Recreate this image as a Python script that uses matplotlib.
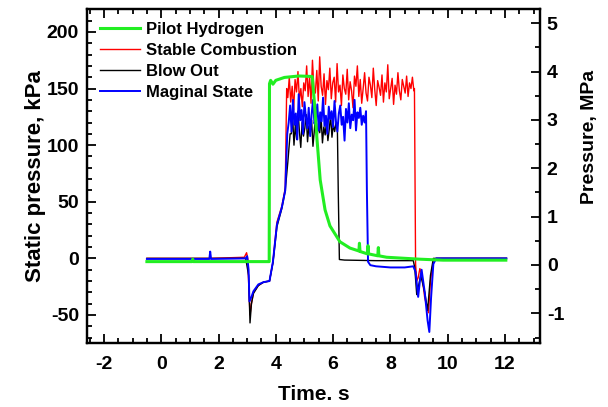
import numpy as np
import matplotlib
matplotlib.use("Agg")
import matplotlib.pyplot as plt
from matplotlib.ticker import MultipleLocator

plt.rcParams['font.family'] = ['Liberation Sans', 'DejaVu Sans']
plt.rcParams['font.weight'] = 'bold'
plt.rcParams['axes.unicode_minus'] = False

# ---- pilot hydrogen pressure, MPa (right axis)
green_t = [-0.5, 1.08, 1.10, 1.12, 3.77, 3.78, 3.82, 3.9, 4.0, 4.3, 4.8, 5.27, 5.34, 5.44, 5.55,
           5.72, 5.89, 6.24, 6.59, 6.90, 6.92, 6.94, 7.20, 7.22, 7.24, 7.56, 7.58, 7.60,
           7.87, 9.03, 9.84, 12.03]
green_v = [0.07, 0.07, 0.12, 0.07, 0.07, 3.75, 3.82, 3.74, 3.82, 3.88, 3.91, 3.90, 3.42, 2.59, 1.76,
           1.14, 0.81, 0.48, 0.35, 0.29, 0.45, 0.28, 0.23, 0.40, 0.23, 0.19, 0.36, 0.19,
           0.16, 0.12, 0.10, 0.10]

# ---- static pressure, kPa (left axis)
red_pre_t = [-0.5, 1.7, 2.9, 2.98, 3.02, 3.05, 3.1, 3.15, 3.22, 3.39, 3.57, 3.78, 3.9, 4.04,
             4.21, 4.33, 4.38]
red_pre_v = [0, 0, 1, 5, 0, -20, -50, -40, -30, -24, -21, -20, -3, 32, 46, 62, 150]
red_plateau = [142, 160, 138, 152, 131, 158, 147, 165, 140, 150, 134, 155, 148, 170, 143, 161,
               137, 175, 150, 146, 166, 139, 178, 152, 144, 163, 136, 157, 149, 168, 141, 155,
               160, 138, 172, 147, 153, 135, 162, 150, 145, 167, 140, 156, 148, 133, 161, 152,
               170, 143, 158, 137, 150, 164, 146, 139, 160, 153, 142, 168, 149, 135, 157, 151,
               144, 162, 138, 155, 147, 171, 141, 150, 159, 136, 153, 145, 164, 148, 140, 158,
               152, 146, 161, 143, 155, 150, 160, 148]
red_post_t = [8.84, 8.88, 8.92, 8.97, 9.03, 9.1, 9.2, 9.33, 9.4, 9.5, 9.6, 12.05]
red_post_v = [150, -5, -20, -17, -9, -15, -35, -48, -20, -2, 0, 0]

black_pre_t = [-0.5, 2.95, 3.05, 3.1, 3.15, 3.22, 3.39, 3.57, 3.78, 3.9, 4.04, 4.21, 4.33,
               4.42, 4.5]
black_pre_v = [0, 0, -15, -57, -40, -31, -24, -21, -20, -4, 28, 44, 60, 85, 110]
black_plateau = [110, 125, 100, 118, 105, 130, 112, 98, 120, 108, 115, 127, 103, 117, 110, 122,
                 99, 113, 128, 106, 119, 111, 124, 102, 116, 109, 121, 104, 114, 126, 107, 118,
                 112, 120, 115]
black_post_t = [6.18, 6.22, 6.4, 7.5, 8.8, 8.85, 8.92, 9.06, 9.2, 9.3, 9.4, 9.5, 12.05]
black_post_v = [60, -1, -1.5, -2, -2, -8, -32, -15, -30, -46, -15, 0, 0]

blue_pre_t = [-0.5, 1.68, 1.71, 1.74, 2.95, 3.0, 3.05, 3.08, 3.15, 3.22, 3.39, 3.57, 3.78, 3.9,
              4.04, 4.21, 4.33, 4.4]
blue_pre_v = [-0.5, -0.5, 6, -0.5, 0, 2, -10, -38, -34, -29, -23, -21, -20, -3, 30, 45, 60, 110]
blue_plateau = [120, 135, 112, 140, 118, 128, 105, 145, 122, 131, 110, 138, 125, 115, 133, 108,
                127, 140, 119, 124, 136, 113, 129, 121, 142, 117, 126, 110, 134, 123, 130, 116,
                139, 121, 112, 128, 135, 118, 125, 104, 132, 120, 137, 115, 127, 122, 140, 113,
                129, 124, 133, 118, 126, 120, 130]
blue_post_t = [7.18, 7.22, 7.3, 7.5, 8.0, 8.5, 8.8, 8.88, 8.97, 9.03, 9.09, 9.2, 9.3, 9.36,
               9.42, 9.5, 9.6, 12.05]
blue_post_v = [60, -3, -6, -7, -8, -8, -7, -12, -34, -20, -10, -30, -55, -65, -35, -5, 0, 0]


def join(pre_t, pre_v, plateau, t0, t1, post_t, post_v):
    t = list(pre_t) + list(np.linspace(t0, t1, len(plateau))) + list(post_t)
    v = list(pre_v) + list(plateau) + list(post_v)
    return t, v


red_t, red_v = join(red_pre_t, red_pre_v, red_plateau, 4.42, 8.82, red_post_t, red_post_v)
black_t, black_v = join(black_pre_t, black_pre_v, black_plateau, 4.54, 6.15, black_post_t, black_post_v)
blue_t, blue_v = join(blue_pre_t, blue_pre_v, blue_plateau, 4.45, 7.15, blue_post_t, blue_post_v)

fig = plt.figure(figsize=(6.08, 4.07), dpi=100)
ax = fig.add_axes([0.1436, 0.1565, 0.7444, 0.8207])
ax2 = ax.twinx()

l_red, = ax.plot(red_t, red_v, color='#ff0000', lw=1.0, label='Stable Combustion')
l_black, = ax.plot(black_t, black_v, color='black', lw=1.0, label='Blow Out')
l_blue, = ax.plot(blue_t, blue_v, color='#0000ff', lw=1.4, label='Maginal State')
l_green, = ax2.plot(green_t, green_v, color='#22ee22', lw=2.2, label='Pilot Hydrogen')

ax.set_xlim(-2.58, 13.22)
ax.set_ylim(-75, 220)
ax2.set_ylim(-1.62, 5.29)

ax.xaxis.set_major_locator(MultipleLocator(2))
ax.xaxis.set_minor_locator(MultipleLocator(0.5))
ax.yaxis.set_major_locator(MultipleLocator(50))
ax.yaxis.set_minor_locator(MultipleLocator(10))
ax2.yaxis.set_major_locator(MultipleLocator(1))
ax2.yaxis.set_minor_locator(MultipleLocator(0.5))

for a in (ax, ax2):
    for s in a.spines.values():
        s.set_linewidth(1.6)
ax.tick_params(which='both', direction='in', top=True, right=False, width=1.3)
ax.tick_params(which='major', length=6.5, labelsize=14)
ax.tick_params(which='minor', length=3.5)
ax.tick_params(axis='y', pad=6)
ax.tick_params(axis='x', pad=9)
ax2.tick_params(which='both', direction='in', width=1.3)
ax2.tick_params(which='major', length=6.5, labelsize=14, pad=5)
ax2.tick_params(which='minor', length=3.5)

ax.set_xlabel('Time. s', fontsize=15, fontweight='bold', labelpad=9)
ax.set_ylabel('Static pressure, kPa', fontsize=16, fontweight='bold', labelpad=0)
ax2.set_ylabel('Pressure, MPa', fontsize=14, fontweight='bold')
ax2.yaxis.set_label_coords(1.09, 0.617)

ax2.legend(handles=[l_green, l_red, l_black, l_blue], loc='upper left', frameon=False,
           fontsize=12, handlelength=2.4, handletextpad=0.36, labelspacing=0.37,
           borderaxespad=0.45, borderpad=0.3)

fig.savefig('out.png', dpi=100)
